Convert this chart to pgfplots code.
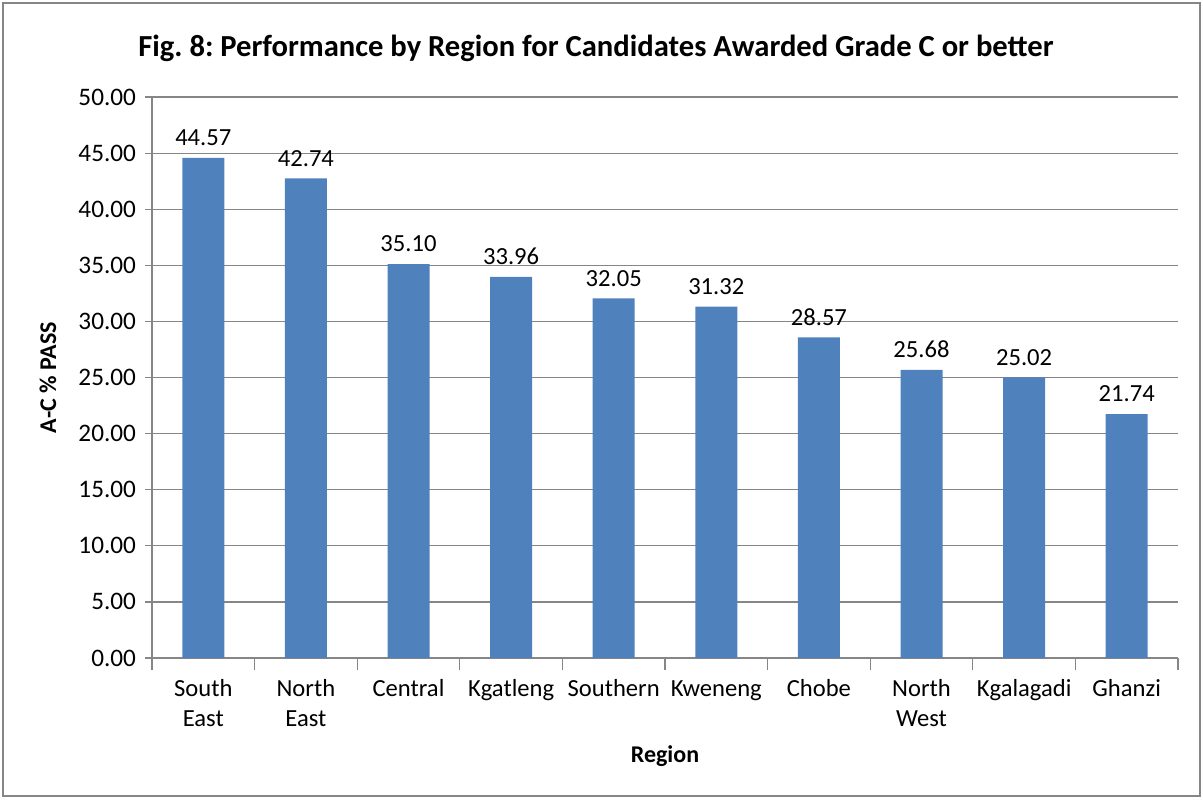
\documentclass[border=0pt]{standalone}
\usepackage{pgfplots}
\pgfplotsset{compat=1.18}
\usepackage{fontspec}
\setmainfont{Carlito}
\frenchspacing
\definecolor{barblue}{HTML}{4F81BD}
\definecolor{gridgray}{HTML}{868686}
\begin{document}
\begin{tikzpicture}
\useasboundingbox (-76pt,-70.5pt) rectangle (525.5pt,329pt);
\draw[gridgray, line width=0.6pt] (-74.5pt,-69pt) rectangle (524pt,327.5pt);
\begin{axis}[
    scale only axis,
    width=513pt, height=280.5pt,
    ybar, bar width=21pt,
    xmin=-0.5, xmax=9.5,
    ymin=0, ymax=50,
    axis lines*=left,
    axis line style={gridgray, line width=0.8pt},
    xtick={0,...,9},
    xticklabels={\strut South\\East, \strut North\\East, \strut Central, \strut Kgatleng, \strut Southern, \strut Kweneng, \strut Chobe, \strut North\\West, \strut Kgalagadi, \strut Ghanzi},
    major x tick style={draw=none},
    minor xtick={-0.5,0.5,...,9.5},
    minor tick length=6pt,
    xticklabel style={align=center, font=\fontsize{12.3}{15}\selectfont, yshift=-1.5pt},
    ytick={0,5,...,50},
    ymajorgrids=true,
    grid style={gridgray, line width=0.6pt},
    major y tick style={gridgray, line width=0.6pt},
    major tick length=3.5pt,
    tick align=outside,
    yticklabel style={font=\fontsize{12.6}{15}\selectfont, xshift=-1pt, /pgf/number format/fixed, /pgf/number format/fixed zerofill, /pgf/number format/precision=2, /pgf/number format/assume math mode=true},
    minor tick style={gridgray, line width=0.6pt},
    nodes near coords,
    nodes near coords style={font=\fontsize{12.3}{15}\selectfont, yshift=2.5pt, /pgf/number format/fixed, /pgf/number format/fixed zerofill, /pgf/number format/precision=2, /pgf/number format/assume math mode=true},
]
\addplot[fill=barblue, draw=none] coordinates {
    (0,44.57) (1,42.74) (2,35.10) (3,33.96) (4,32.05)
    (5,31.32) (6,28.57) (7,25.68) (8,25.02) (9,21.74)
};
\end{axis}
\node at (222pt,305pt) {\fontsize{15.3}{18}\selectfont\bfseries Fig. 8: Performance by Region for Candidates Awarded Grade C or better};
\node[rotate=90] at (-52pt,140.25pt) {\fontsize{12}{15}\selectfont\bfseries A-C \% PASS};
\node at (256.5pt,-49pt) {\fontsize{12}{15}\selectfont\bfseries Region};
\end{tikzpicture}
\end{document}
